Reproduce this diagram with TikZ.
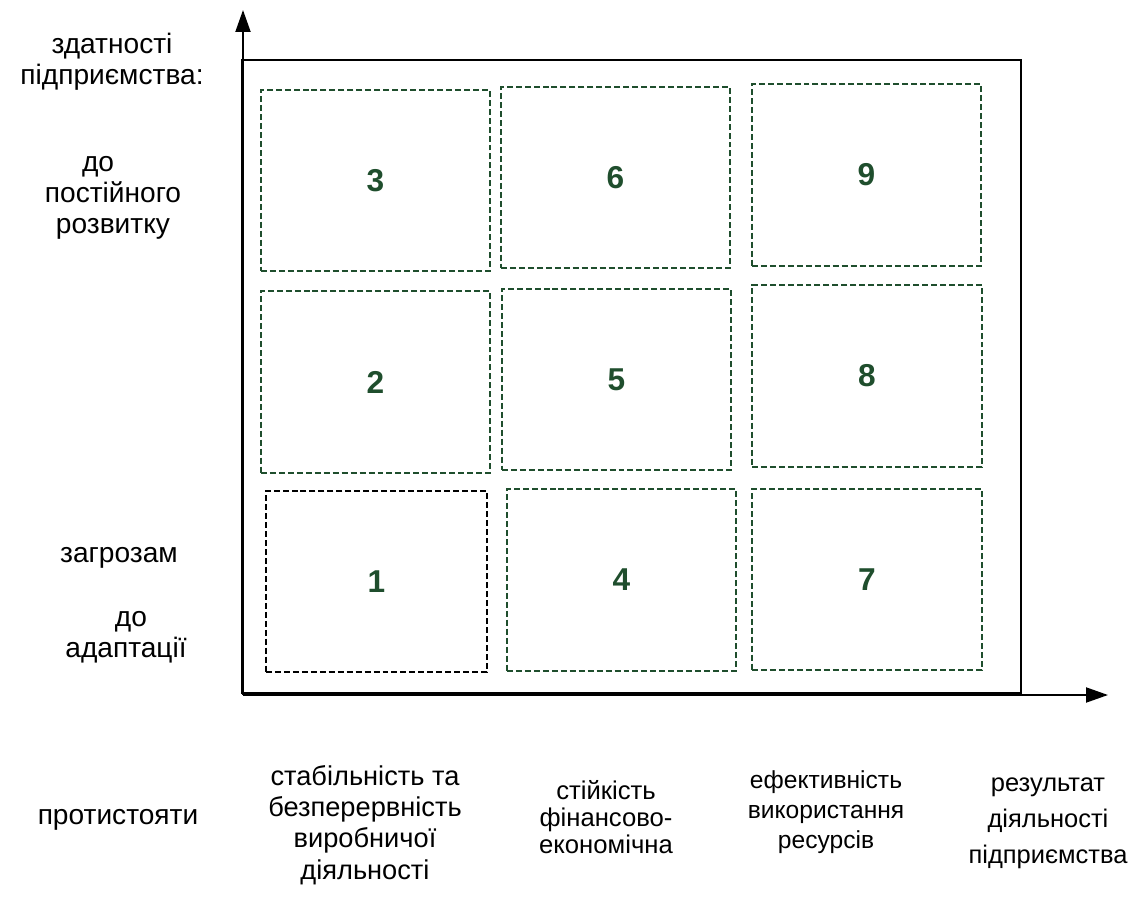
\documentclass[tikz,border=0pt]{standalone}
\usepackage{fontspec}
\setmainfont{Liberation Sans}
\usetikzlibrary{arrows.meta}
\definecolor{boxgreen}{RGB}{31,78,45}
\begin{document}
\begin{tikzpicture}[x=0.02cm,y=-0.02cm,
  cell/.style={draw=boxgreen, line width=1.1pt, dash pattern=on 3.4pt off 1.7pt,
    inner sep=0pt, outer sep=0pt, text=boxgreen,
    font=\bfseries\fontsize{18pt}{18pt}\selectfont},
  cellblack/.style={cell, draw=black},
  frm/.style={draw=black, line width=1.1pt, inner sep=0pt, outer sep=0pt},
  axis/.style={line width=1.1pt, -{Triangle[length=0.44cm,width=0.3cm]}},
  biglab/.style={align=center, inner sep=0pt, font=\fontsize{16pt}{17.6pt}\selectfont},
  midlab/.style={align=center, inner sep=0pt, font=\fontsize{14.6pt}{15.5pt}\selectfont},
]
\useasboundingbox (0,0) rectangle (1137,899);

% frame
\node[frm, minimum width=15.58cm, minimum height=12.66cm] (frame) at (631.5,376.5) {};

% axes
\coordinate (O) at (243,695);
\coordinate (ytip) at (243,10);
\coordinate (xtip) at (1108,695);
\draw[axis] (O) -- (ytip);
\draw[axis] (O) -- (xtip);

% cells
\node[cell, minimum width=4.58cm, minimum height=3.62cm] (c3) at (375.5,180.5) {3};
\node[cell, minimum width=4.58cm, minimum height=3.62cm] (c6) at (615.5,177.5) {6};
\node[cell, minimum width=4.58cm, minimum height=3.64cm] (c9) at (866.5,175) {9};
\node[cell, minimum width=4.58cm, minimum height=3.64cm] (c2) at (375.5,382) {2};
\node[cell, minimum width=4.58cm, minimum height=3.62cm] (c5) at (616.5,379.5) {5};
\node[cell, minimum width=4.60cm, minimum height=3.64cm] (c8) at (867,376) {8};
\node[cellblack, minimum width=4.42cm, minimum height=3.62cm] (c1) at (376.5,581.5) {1};
\node[cell, minimum width=4.58cm, minimum height=3.64cm] (c4) at (621.5,580) {4};
\node[cell, minimum width=4.60cm, minimum height=3.62cm] (c7) at (867,579.5) {7};

% left labels
\node[biglab] (l1) at (112,62) {здатності\\підприємства:};
\node[biglab] (l2) at (113,198) {до\hspace*{30\dimexpr0.567pt\relax}\\постійного\\розвитку};
\node[biglab] (l3) at (119,558) {загрозам};
\node[biglab] (l4) at (126,637) {\hspace*{10\dimexpr0.567pt\relax}до\\адаптації};
\node[biglab] (l5) at (118,820) {протистояти};

% bottom labels
\node[biglab, font=\fontsize{15.5pt}{17.8pt}\selectfont] (b1) at (365,825) {стабільність та\\безперервність\\виробничої\\діяльності};
\node[midlab] (b2) at (606,817) {стійкість\\фінансово-\\економічна};
\node[midlab, font=\fontsize{14pt}{17pt}\selectfont] (b3) at (826,812) {ефективність\\використання\\ресурсів};
\node[biglab, font=\fontsize{14.5pt}{20.4pt}\selectfont] (b4) at (1048,823) {результат\\діяльності\\підприємства};
\end{tikzpicture}
\end{document}
